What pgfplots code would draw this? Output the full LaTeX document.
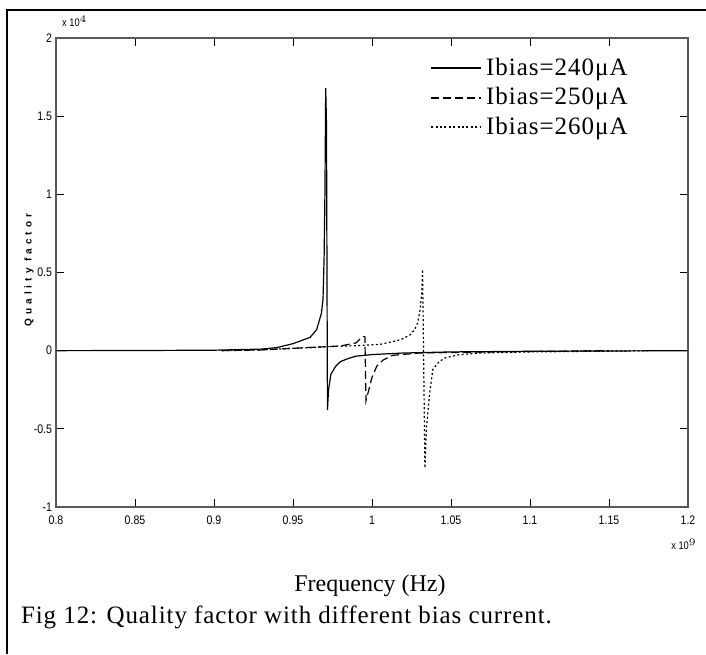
\documentclass[border=0pt]{standalone}
\usepackage{fontspec}
\setmainfont{Liberation Serif}
\newfontfamily\tickfont[FakeStretch=0.85]{Liberation Sans}
\newfontfamily\labfont{Liberation Sans}
\usepackage{pgfplots}
\pgfplotsset{compat=1.18}
\pgfplotstableread{
x y
0.800 0
0.850 0.001
0.900 0.003
0.930 0.01
0.940 0.02
0.950 0.045
0.9608 0.085
0.965 0.135
0.968 0.24
0.969 0.33
0.9697 0.6
0.9702 1.0
0.9707 1.68
0.9712 1.45
0.9718 -0.38
0.9725 -0.25
0.974 -0.15
0.977 -0.10
0.980 -0.07
0.985 -0.05
0.990 -0.035
1.000 -0.025
1.020 -0.015
1.050 -0.008
1.100 -0.004
1.200 0
}\tablea
\pgfplotstableread{
x y
0.905 0
0.930 0.005
0.950 0.015
0.970 0.025
0.980 0.03
0.990 0.05
0.993 0.08
0.9945 0.09
0.9955 0.09
0.9962 -0.32
0.998 -0.25
1.000 -0.17
1.003 -0.10
1.007 -0.06
1.013 -0.03
1.030 -0.015
1.060 -0.01
1.100 -0.005
1.150 0
}\tableb
\pgfplotstableread{
x y
0.905 0
0.930 0.005
0.950 0.015
0.970 0.025
0.990 0.032
1.005 0.04
1.011 0.053
1.018 0.07
1.024 0.10
1.027 0.135
1.029 0.18
1.0304 0.26
1.0315 0.37
1.032 0.52
1.0335 -0.75
1.0345 -0.49
1.0365 -0.27
1.0385 -0.12
1.0425 -0.07
1.0465 -0.045
1.055 -0.026
1.068 -0.015
1.100 -0.008
1.176 0
}\tablec
\begin{document}
\begin{tikzpicture}
\begin{axis}[
  scale only axis,
  width=316pt, height=234.5pt,
  xmin=0.8, xmax=1.2, ymin=-1, ymax=2,
  xtick={0.8,0.85,0.9,0.95,1,1.05,1.1,1.15,1.2},
  xticklabels={0.8,0.85,0.9,0.95,1,1.05,1.1,1.15,1.2},
  ytick={-1,-0.5,0,0.5,1,1.5,2},
  yticklabels={-1,-0.5,0,0.5,1,1.5,2},
  scaled ticks=false,
  tick align=inside, major tick length=4pt,
  tick style={black, line width=0.5pt},
  axis line style={draw=black!65, line width=0.6pt},
  ticklabel style={font=\tickfont\fontsize{6.2}{7}\selectfont},
  xticklabel style={yshift=-1pt},
  yticklabel style={xshift=1.5pt},
  /pgf/number format/assume math mode=true,
  legend style={draw=none, fill=none, at={(0.582,0.975)}, anchor=north west,
    font=\fontsize{12.5}{14}\selectfont\addfontfeature{LetterSpace=4}, row sep=0.5pt},
  legend cell align=left,
  legend image code/.code={\draw[#1,line width=0.9pt] (0pt,0pt) -- (25pt,0pt);},
]
\addplot[black, line width=0.6pt] table {\tablea};
\addlegendentry{Ibias=240μA}
\addplot[black, line width=0.6pt, dash pattern=on 4pt off 2pt] table {\tableb};
\addlegendentry{Ibias=250μA}
\addplot[black, line width=0.6pt, dash pattern=on 1pt off 1.2pt] table {\tablec};
\addlegendentry{Ibias=260μA}
\coordinate (O) at (rel axis cs:0,0);
\end{axis}
\begin{scope}[shift={(O)}, x=1pt, y=1pt]
\draw[line width=1.1pt] (-24.5,-73.5) -- (-24.5,248.5) -- (325,248.5);
\node[font=\tickfont\fontsize{5.5}{6}\selectfont, anchor=south west] at (-0.5,236.5) {x 10$^{4}$};
\node[font=\tickfont\fontsize{5.5}{6}\selectfont] at (314,-18.5) {x 10$^{9}$};
\node[rotate=90, font=\labfont\bfseries\fontsize{5}{6}\selectfont\addfontfeature{LetterSpace=40}] at (-13.5,118.5) {Quality factor};
\node[font=\fontsize{12}{14}\selectfont] at (157,-39.5) {Frequency (Hz)};
\node[font=\fontsize{12.5}{14}\selectfont\addfontfeature{LetterSpace=3.6}, anchor=west] at (-21,-55) {Fig 12: Quality factor with different bias current.};
\end{scope}
\pgfresetboundingbox
\begin{scope}[shift={(O)}, x=1pt, y=1pt]
\useasboundingbox (-28,-73.5) rectangle (325,253.5);
\end{scope}
\end{tikzpicture}
\end{document}
